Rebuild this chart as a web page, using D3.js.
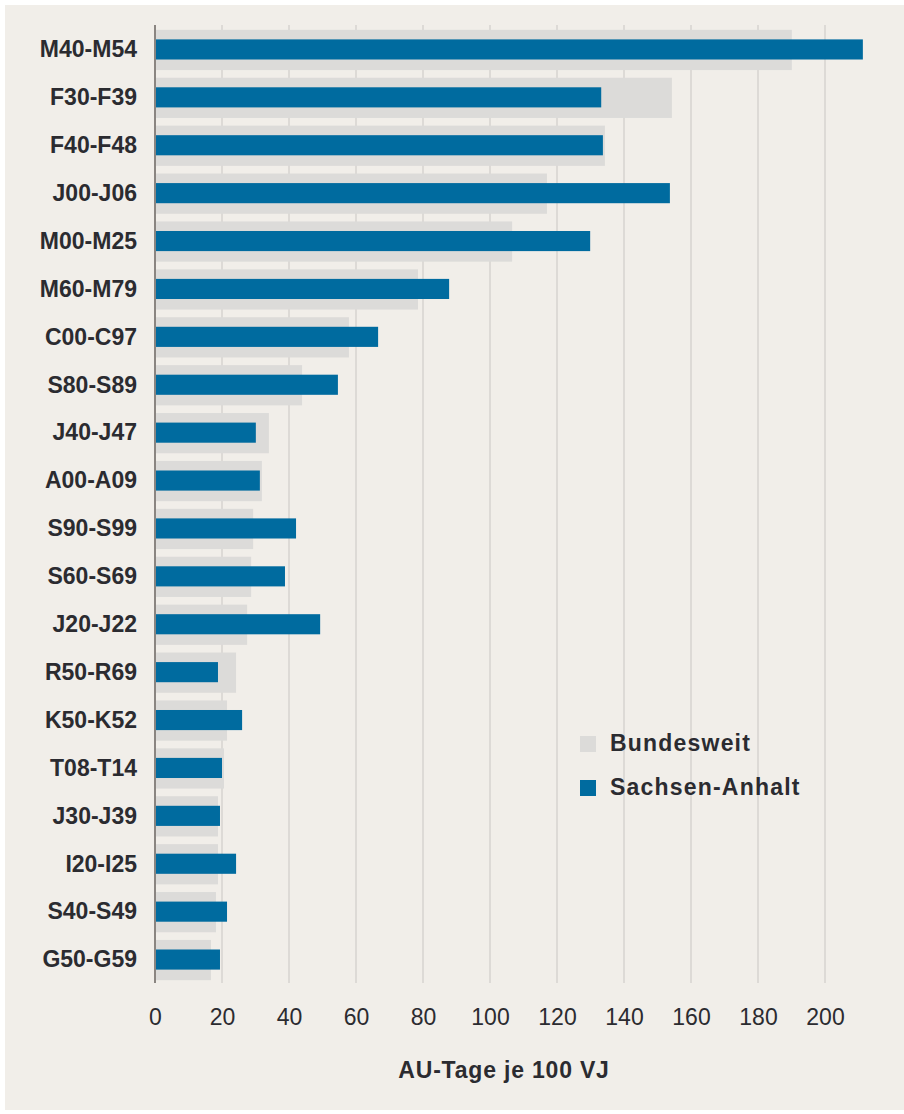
<!DOCTYPE html>
<html>
<head>
<meta charset="utf-8">
<script src="https://cdn.jsdelivr.net/npm/d3@7"></script>
<style>
  html, body { margin: 0; padding: 0; background: #ffffff; }
  svg { display: block; font-family: "Liberation Sans", Arial, sans-serif; }
</style>
</head>
<body>
<svg id="chart" width="904" height="1114"></svg>
<script>
// ICD diagnosis groups, sorted by the nationwide value
const categories = ["M40-M54", "F30-F39", "F40-F48", "J00-J06", "M00-M25", "M60-M79",
  "C00-C97", "S80-S89", "J40-J47", "A00-A09", "S90-S99", "S60-S69", "J20-J22",
  "R50-R69", "K50-K52", "T08-T14", "J30-J39", "I20-I25", "S40-S49", "G50-G59"];

// AU-Tage je 100 VJ
const bundesweit = [190.1, 154.3, 134.3, 117.0, 106.6, 78.5, 57.9, 43.9, 34.0, 31.9,
  29.3, 28.7, 27.5, 24.2, 21.5, 20.6, 18.8, 18.8, 18.2, 16.7];
const sachsenAnhalt = [211.3, 133.2, 133.7, 153.7, 129.9, 87.8, 66.6, 54.6, 30.1, 31.3,
  42.1, 38.8, 49.3, 18.8, 26.0, 20.0, 19.4, 24.2, 21.5, 19.4];

const xTicks = [0, 20, 40, 60, 80, 100, 120, 140, 160, 180, 200];
const seriesNames = ["Bundesweit", "Sachsen-Anhalt"];
const seriesColors = ["#dcdbd9", "#006b9f"];
const axisTitle = "AU-Tage je 100 VJ";

const svg = d3.select("#chart");
const textColor = "#2b2b30";

// panel background
svg.append("rect")
  .attr("x", 5).attr("y", 5)
  .attr("width", 899).attr("height", 1105)
  .attr("fill", "#f1eee9");

const x = d3.scaleLinear().domain([0, 200]).range([155, 825]);
const y = d3.scaleBand().domain(categories).range([25, 983]).padding(0);
const step = y.step();

// vertical gridlines
svg.append("g").selectAll("line")
  .data(xTicks.filter(d => d > 0))
  .join("line")
  .attr("x1", d => x(d)).attr("x2", d => x(d))
  .attr("y1", 25).attr("y2", 983)
  .attr("stroke", "#dddad6")
  .attr("stroke-width", 2);

// nationwide bars (wide, light grey)
const greyH = step * 0.84;
svg.append("g").selectAll("rect")
  .data(categories)
  .join("rect")
  .attr("x", x(0))
  .attr("y", d => y(d) + step / 2 - greyH / 2 + 1)
  .attr("width", (d, i) => x(bundesweit[i]) - x(0))
  .attr("height", greyH)
  .attr("fill", seriesColors[0]);

// Sachsen-Anhalt bars (narrow, blue)
const blueH = step * 0.42;
svg.append("g").selectAll("rect")
  .data(categories)
  .join("rect")
  .attr("x", x(0))
  .attr("y", d => y(d) + step / 2 - blueH / 2 + 0.5)
  .attr("width", (d, i) => x(sachsenAnhalt[i]) - x(0))
  .attr("height", blueH)
  .attr("fill", seriesColors[1]);

// zero line
svg.append("line")
  .attr("x1", x(0)).attr("x2", x(0))
  .attr("y1", 25).attr("y2", 983)
  .attr("stroke", "#8a8581")
  .attr("stroke-width", 2);

// category labels
const yAxis = d3.axisLeft(y).tickSize(0).tickPadding(18);
const gy = svg.append("g")
  .attr("transform", `translate(${x(0)},0)`)
  .call(yAxis);
gy.select(".domain").remove();
gy.selectAll("text")
  .attr("font-family", "'Liberation Sans', Arial, sans-serif")
  .attr("font-size", 23)
  .attr("font-weight", "bold")
  .attr("fill", textColor)
  .attr("dy", "0.36em");

// value axis labels
const xAxis = d3.axisBottom(x).tickValues(xTicks).tickSize(0).tickPadding(0);
const gx = svg.append("g")
  .attr("transform", "translate(0,1025)")
  .call(xAxis);
gx.select(".domain").remove();
gx.selectAll("text")
  .attr("font-family", "'Liberation Sans', Arial, sans-serif")
  .attr("font-size", 23)
  .attr("fill", textColor)
  .attr("dy", 0)
  .attr("y", 0);

// axis title
svg.append("text")
  .attr("x", 504).attr("y", 1078)
  .attr("text-anchor", "middle")
  .attr("font-size", 23)
  .attr("font-weight", "bold")
  .attr("letter-spacing", 0.8)
  .attr("fill", textColor)
  .text(axisTitle);

// legend
const legend = svg.append("g");
const legendY = [736, 780];
seriesNames.forEach((name, i) => {
  legend.append("rect")
    .attr("x", 580).attr("y", legendY[i])
    .attr("width", 16).attr("height", 16)
    .attr("fill", seriesColors[i]);
  legend.append("text")
    .attr("x", 610).attr("y", legendY[i] + 15)
    .attr("font-size", 23)
    .attr("font-weight", "bold")
    .attr("letter-spacing", 1.2)
    .attr("fill", textColor)
    .text(name);
});
</script>
</body>
</html>
